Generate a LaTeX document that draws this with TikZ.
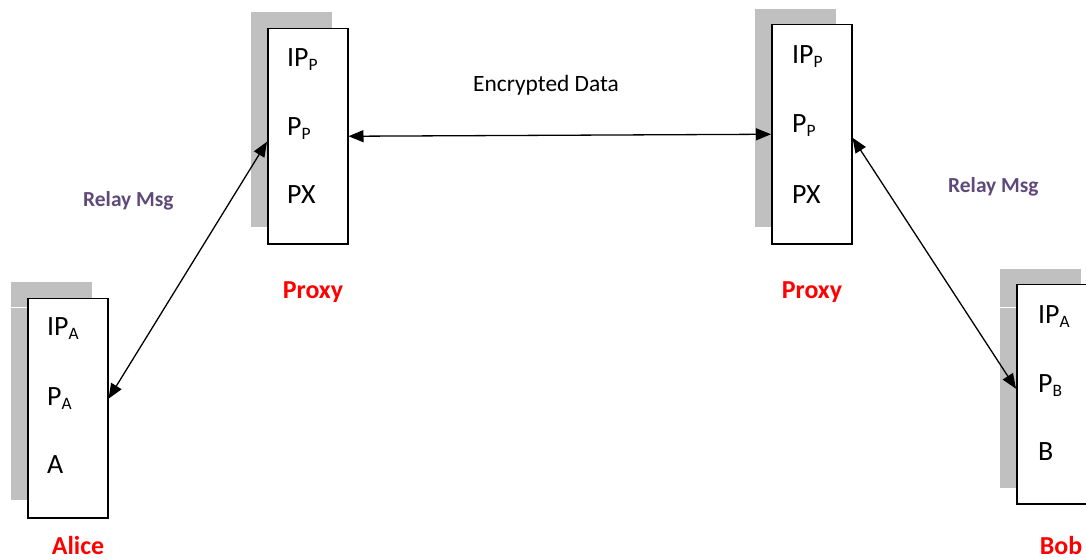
\documentclass[tikz,border=0pt]{standalone}
\usepackage{fontspec}
\setmainfont{Carlito}
\usetikzlibrary{arrows.meta}
\definecolor{shade}{RGB}{192,192,192}
\definecolor{relay}{RGB}{95,73,122}
\newcommand\sbs[1]{\raisebox{-4bp}{\fontsize{17.5}{18}\selectfont #1}}
\begin{document}
\begin{tikzpicture}[x=1bp,y=-1bp,
 shadowbox/.style={fill=shade, draw=none, inner sep=0, anchor=north west, minimum width=81bp},
 mainbox/.style={draw, fill=white, line width=1.5bp, inner sep=0, anchor=north west, minimum width=80bp},
 fld/.style={anchor=base west, inner sep=0, font=\fontsize{28}{32}\selectfont},
 who/.style={anchor=base, inner sep=0, text=red, font=\bfseries\fontsize{26}{30}\selectfont},
 rly/.style={anchor=base west, inner sep=0, text=relay, font=\bfseries\fontsize{21.5}{24}\selectfont},
 lbl/.style={anchor=base west, inner sep=0, font=\fontsize{23.5}{26}\selectfont},
 link/.style={line width=1.3bp, {Triangle[length=15bp,width=12bp]}-{Triangle[length=15bp,width=12bp]}}]
\useasboundingbox (0,0) rectangle (1086,560);

% shadows
\node[shadowbox, minimum height=215bp] (s1) at (251,12) {};
\node[shadowbox, minimum height=218bp] (s2) at (755,9) {};
\node[shadowbox, minimum height=218bp] (sa) at (11,282) {};
\node[shadowbox, minimum height=219bp] (sb) at (1000,269) {};
\draw[white, line width=1bp] (11,308) -- (27,308);
\draw[white, line width=1bp] (1000,308) -- (1016,308);

% boxes
\node[mainbox, minimum height=215bp] (p1) at (267,28) {};
\node[mainbox, minimum height=219bp] (p2) at (771,24) {};
\node[mainbox, minimum height=219bp] (alice) at (27,298) {};
\node[mainbox, minimum height=219bp] (bob) at (1016,284) {};

% fields
\node[fld] (p1a) at (287,67) {IP\sbs{P}};
\node[fld] (p1b) at (287,136) {P\sbs{P}};
\node[fld] (p1c) at (287,204) {PX};
\node[fld] (p2a) at (792,64) {IP\sbs{P}};
\node[fld] (p2b) at (792,133) {P\sbs{P}};
\node[fld] (p2c) at (792,204) {PX};
\node[fld] (aa) at (47,336) {IP\sbs{A}};
\node[fld] (ab) at (47,405) {P\sbs{A}};
\node[fld] (ac) at (47,473) {A};
\node[fld] (ba) at (1038,324) {IP\sbs{A}};
\node[fld] (bb) at (1038,392) {P\sbs{B}};
\node[fld] (bc) at (1038,460) {B};

% names
\node[who] (n1) at (313,299) {Proxy};
\node[who] (n2) at (812,299) {Proxy};
\node[who] (na) at (78,554) {Alice};
\node[who] (nb) at (1061,554) {Bob};

% labels
\node[lbl] (enc) at (473,92) {Encrypted Data};
\node[rly] (r1) at (83,207) {Relay Msg};
\node[rly] (r2) at (948,193) {Relay Msg};

% connectors
\draw[link] ([yshift=9.5bp]alice.east) -- ([yshift=-5.5bp]p1.west);
\draw[link] (p1.east) -- (p2.west);
\draw[link] ([yshift=-3.5bp]p2.east) -- ([yshift=5.5bp]bob.west);
\end{tikzpicture}
\end{document}
